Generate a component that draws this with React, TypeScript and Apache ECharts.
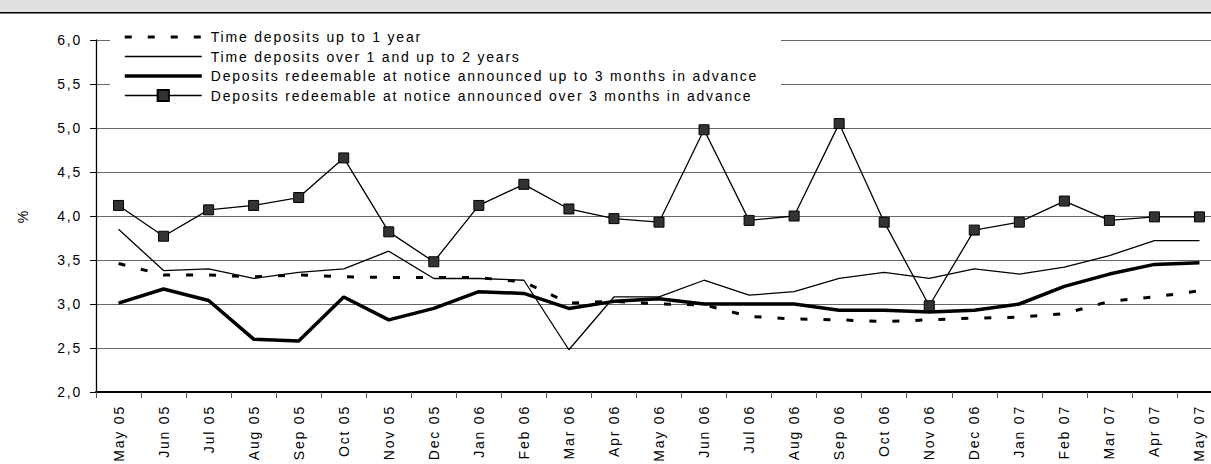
import React, { useEffect, useRef } from "react";
import * as echarts from "echarts";

const categories = [
  "May 05", "Jun 05", "Jul 05", "Aug 05", "Sep 05", "Oct 05", "Nov 05", "Dec 05",
  "Jan 06", "Feb 06", "Mar 06", "Apr 06", "May 06", "Jun 06", "Jul 06", "Aug 06",
  "Sep 06", "Oct 06", "Nov 06", "Dec 06", "Jan 07", "Feb 07", "Mar 07", "Apr 07", "May 07",
];

const seriesNames = [
  "Time deposits up to 1 year",
  "Time deposits over 1 and up to 2 years",
  "Deposits redeemable at notice announced up to 3 months in advance",
  "Deposits redeemable at notice announced over 3 months in advance",
];

const upTo1Year = [3.46, 3.33, 3.33, 3.31, 3.33, 3.31, 3.30, 3.30, 3.30, 3.25, 3.01, 3.03, 3.00, 2.99, 2.86, 2.83, 2.82, 2.80, 2.82, 2.84, 2.85, 2.89, 3.03, 3.08, 3.15];
const over1To2Years = [3.85, 3.38, 3.40, 3.29, 3.36, 3.40, 3.60, 3.29, 3.29, 3.27, 2.48, 3.08, 3.08, 3.27, 3.10, 3.14, 3.29, 3.36, 3.29, 3.40, 3.34, 3.42, 3.55, 3.72, 3.72];
const noticeUpTo3Months = [3.01, 3.17, 3.04, 2.60, 2.58, 3.08, 2.82, 2.95, 3.14, 3.12, 2.95, 3.03, 3.06, 3.00, 3.00, 3.00, 2.93, 2.93, 2.91, 2.93, 3.00, 3.20, 3.34, 3.45, 3.47];
const noticeOver3Months = [4.12, 3.77, 4.07, 4.12, 4.21, 4.66, 3.82, 3.48, 4.12, 4.36, 4.08, 3.97, 3.93, 4.98, 3.95, 4.00, 5.05, 3.93, 2.98, 3.84, 3.93, 4.17, 3.95, 3.99, 3.99];

const yMin = 2;
const yMax = 6;
const yStep = 0.5;

const FONT = "'Liberation Sans', Arial, sans-serif";
const CHART_W = 1222;
const CHART_H = 464;

export default function App() {
  const ref = useRef<HTMLDivElement>(null);

  useEffect(() => {
    if (!ref.current) return;
    const chart = echarts.init(ref.current, null, { renderer: "svg" });
    const noSymbol = { opacity: 0, color: "transparent", borderWidth: 0 };
    chart.setOption({
      animation: false,
      backgroundColor: "#ffffff",
      textStyle: { fontFamily: FONT, color: "#000" },
      graphic: [
        { type: "rect", shape: { x: 0, y: 0, width: CHART_W, height: 12 }, style: { fill: "#e0e0e0" }, z: 0 },
        { type: "line", shape: { x1: 0, y1: 12.75, x2: CHART_W, y2: 12.75 }, style: { stroke: "#000", lineWidth: 1.5 }, z: 0 },
        { type: "rect", shape: { x: 110, y: 27, width: 671, height: 80 }, style: { fill: "#ffffff" }, z: 3 },
      ],
      legend: {
        show: true,
        orient: "vertical",
        left: 123,
        top: 29,
        padding: 0,
        itemWidth: 77,
        itemHeight: 14,
        itemGap: 3.5,
        z: 5,
        textStyle: { fontFamily: FONT, fontSize: 14, color: "#000", lineHeight: 16, padding: [0, 0, 0, 4] },
        data: [
          { name: seriesNames[0], itemStyle: noSymbol, lineStyle: { width: 3, type: [7, 16] } },
          { name: seriesNames[1], itemStyle: noSymbol, lineStyle: { width: 1.3 } },
          { name: seriesNames[2], itemStyle: noSymbol, lineStyle: { width: 3.5 } },
          { name: seriesNames[3], lineStyle: { width: 1.3 } },
        ],
      },
      grid: { left: 96, right: 0, top: 40, bottom: 72, containLabel: false },
      xAxis: {
        type: "category",
        data: categories,
        boundaryGap: true,
        axisLine: { show: true, lineStyle: { color: "#000", width: 2 } },
        axisTick: { show: true, length: 6, lineStyle: { color: "#555", width: 1 } },
        axisLabel: { interval: 0, rotate: 90, margin: 13, fontSize: 14, fontFamily: FONT, color: "#000" },
        splitLine: { show: false },
      },
      yAxis: {
        type: "value",
        min: yMin,
        max: yMax,
        interval: yStep,
        name: "%",
        nameLocation: "middle",
        nameRotate: 90,
        nameGap: 66,
        nameTextStyle: { fontSize: 14, fontFamily: FONT, color: "#000" },
        axisLine: { show: true, lineStyle: { color: "#000", width: 1.3 } },
        axisTick: { show: true, length: 6, lineStyle: { color: "#000", width: 1 } },
        axisLabel: {
          margin: 14,
          fontSize: 14,
          fontFamily: FONT,
          color: "#000",
          formatter: (v: number) => v.toFixed(1).replace(".", ","),
        },
        splitLine: { show: true, lineStyle: { color: "#666", width: 1 } },
      },
      series: [
        {
          name: seriesNames[0],
          type: "line",
          data: upTo1Year,
          symbol: "none",
          lineStyle: { color: "#000", width: 3, type: [7, 16] },
          itemStyle: { color: "#000" },
          z: 2,
        },
        {
          name: seriesNames[1],
          type: "line",
          data: over1To2Years,
          symbol: "none",
          lineStyle: { color: "#000", width: 1.3 },
          itemStyle: { color: "#000" },
          z: 2,
        },
        {
          name: seriesNames[2],
          type: "line",
          data: noticeUpTo3Months,
          symbol: "none",
          lineStyle: { color: "#000", width: 3.5 },
          itemStyle: { color: "#000" },
          z: 2,
        },
        {
          name: seriesNames[3],
          type: "line",
          data: noticeOver3Months,
          symbol: "rect",
          symbolSize: 10,
          lineStyle: { color: "#000", width: 1.3 },
          itemStyle: { color: "#333", borderColor: "#000", borderWidth: 1 },
          z: 2,
        },
      ],
    });
    return () => chart.dispose();
  }, []);

  return (
    <div style={{ position: "fixed", left: 0, top: 0, width: 1211, height: CHART_H, overflow: "hidden" }}>
      <div
        ref={ref}
        style={{ position: "absolute", left: 0, top: 0, width: CHART_W, height: CHART_H, letterSpacing: "1.8px" }}
      />
    </div>
  );
}
